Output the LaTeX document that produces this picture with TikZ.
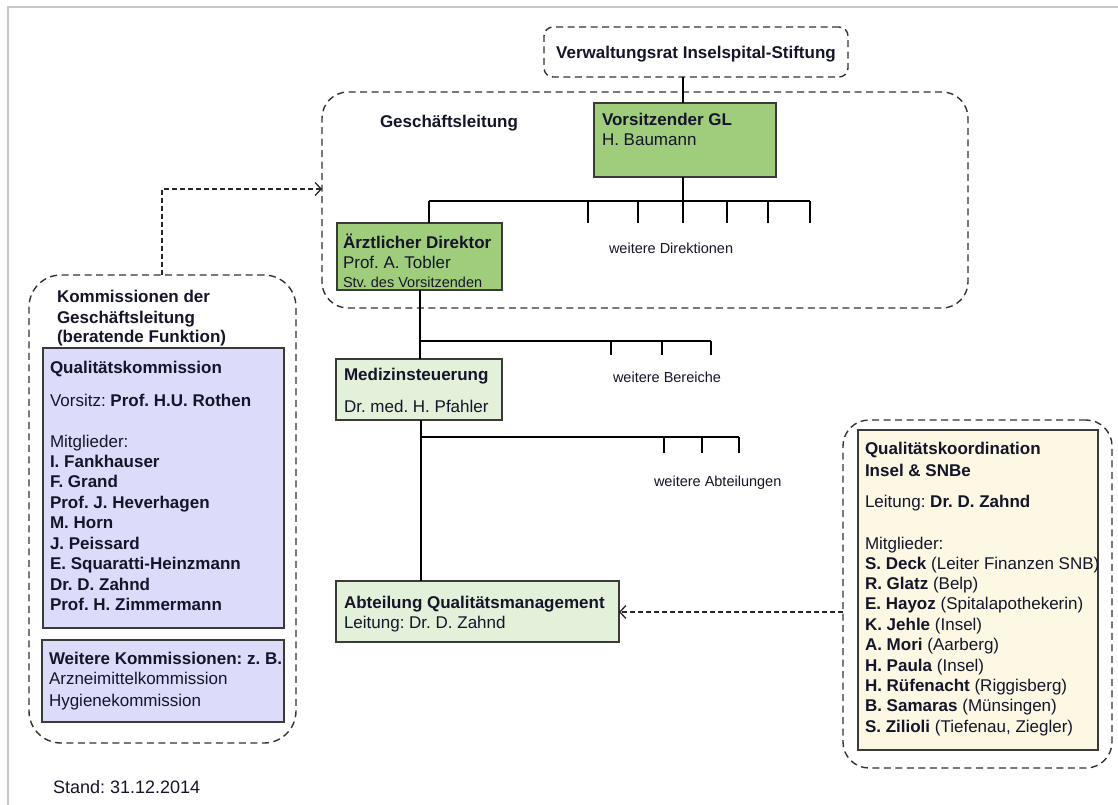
\documentclass[tikz,border=0pt]{standalone}
\usepackage{fontspec}
\setmainfont{Liberation Sans}
\usetikzlibrary{arrows.meta}
\definecolor{tcol}{HTML}{15152A}
\definecolor{gdark}{HTML}{9FCD7C}
\definecolor{glight}{HTML}{E3F0DA}
\definecolor{lav}{HTML}{DCDCFA}
\definecolor{cream}{HTML}{FCF8E4}
\definecolor{bord}{HTML}{3A3A3A}
\definecolor{framecol}{HTML}{C8C8C8}
\newcommand\mytx[4]{\node[txt] (#1) at (#2,#3) {#4};}
\begin{document}
\frenchspacing
\begin{tikzpicture}[x=1pt,y=-1pt,
 box/.style={draw=bord,line width=1.4pt,anchor=north west,inner sep=0pt,outer sep=0pt},
 dbox/.style={draw=black!80,line width=1.4pt,dash pattern=on 7pt off 4.5pt,anchor=north west,inner sep=0pt,outer sep=0pt},
 conn/.style={draw=black,line width=1.2pt},
 darr/.style={draw=black!85,line width=1.3pt,dash pattern=on 5pt off 3pt,-{Straight Barb[length=6pt,width=13pt,line width=1.3pt]}},
 txt/.style={anchor=base west,inner sep=0pt,outer sep=0pt,text=tcol,font=\fontsize{17}{20}\selectfont},
 small/.style={txt,font=\fontsize{14.5}{17}\selectfont},
]
\useasboundingbox (0,0) rectangle (1118,805);
\fill[white] (0,0) rectangle (1118,805);
\draw[framecol,line width=1.5pt] (8,805) -- (8,7) -- (1118,7);

% containers
\node[dbox,rounded corners=9pt,minimum width=304pt,minimum height=50pt] (vr) at (544,27) {};
\node[txt,anchor=base,font=\fontsize{17}{20}\selectfont\bfseries] (vrt) at (696,59) {Verwaltungsrat Inselspital-Stiftung};
\node[dbox,rounded corners=26pt,minimum width=646pt,minimum height=216pt] (gl) at (322,92) {};
\node[dbox,rounded corners=32pt,minimum width=267pt,minimum height=468pt] (kg) at (29,275) {};
\node[dbox,rounded corners=26pt,minimum width=269pt,minimum height=348pt] (qk) at (843,420) {};

% boxes
\node[box,fill=gdark,minimum width=182pt,minimum height=74pt] (vgl) at (594,103) {};
\node[box,fill=gdark,minimum width=165pt,minimum height=67pt] (ad) at (337,223) {};
\node[box,fill=glight,minimum width=166pt,minimum height=61pt] (ms) at (336,359) {};
\node[box,fill=glight,minimum width=283pt,minimum height=61pt] (aq) at (336,581) {};
\node[box,fill=lav,minimum width=241pt,minimum height=280pt] (qkom) at (43,348) {};
\node[box,fill=lav,minimum width=242pt,minimum height=82pt] (wk) at (42,640) {};
\node[box,fill=cream,minimum width=240pt,minimum height=320pt] (qkoord) at (858,430) {};

% top texts
\mytx{glt}{380}{128}{\bfseries Geschäftsleitung}
\mytx{v1}{602}{126}{\bfseries Vorsitzender GL}
\mytx{v2}{602}{146}{H. Baumann}
\mytx{a1}{343}{248}{\bfseries Ärztlicher Direktor}
\mytx{a2}{343}{268}{Prof. A. Tobler}
\node[small] (a3) at (343,287) {Stv. des Vorsitzenden};
\node[small] (wd) at (609,253) {weitere Direktionen};
\node[small] (wb) at (613,382) {weitere Bereiche};
\node[small] (wa) at (654,486) {weitere Abteilungen};

\mytx{m1}{344}{380}{\bfseries Medizinsteuerung}
\mytx{m2}{344}{412}{Dr. med. H. Pfahler}
\mytx{q1}{344}{608}{\bfseries Abteilung Qualitätsmanagement}
\mytx{q2}{344}{628}{Leitung: Dr. D. Zahnd}

% left panel
\mytx{k1}{57}{302}{\bfseries Kommissionen der}
\mytx{k2}{57}{323}{\bfseries Geschäftsleitung}
\mytx{k3}{57}{342}{\bfseries (beratende Funktion)}
\mytx{l1}{50}{373}{\bfseries Qualitätskommission}
\mytx{l2}{50}{406}{Vorsitz: \textbf{Prof. H.U. Rothen}}
\mytx{l3}{50}{447}{Mitglieder:}
\mytx{l4}{50}{467}{\bfseries I. Fankhauser}
\mytx{l5}{50}{487.5}{\bfseries F. Grand}
\mytx{l6}{50}{508}{\bfseries Prof. J. Heverhagen}
\mytx{l7}{50}{528.5}{\bfseries M. Horn}
\mytx{l8}{50}{549}{\bfseries J. Peissard}
\mytx{l9}{50}{569.5}{\bfseries E. Squaratti-Heinzmann}
\mytx{l10}{50}{590}{\bfseries Dr. D. Zahnd}
\mytx{l11}{50}{610.5}{\bfseries Prof. H. Zimmermann}
\mytx{w1}{49}{664}{\bfseries Weitere Kommissionen: z. B.}
\mytx{w2}{49}{684}{Arzneimittelkommission}
\mytx{w3}{49}{706}{Hygienekommission}
\node[txt,font=\fontsize{18}{21}\selectfont] (stand) at (53,793) {Stand: 31.12.2014};

% right panel
\mytx{r1}{865}{454}{\bfseries Qualitätskoordination}
\mytx{r2}{865}{476}{\bfseries Insel \& SNBe}
\mytx{r3}{865}{507}{Leitung: \textbf{Dr. D. Zahnd}}
\mytx{r4}{865}{549}{Mitglieder:}
\mytx{r5}{865}{569}{\textbf{S. Deck} (Leiter Finanzen SNB)}
\mytx{r6}{865}{589.4}{\textbf{R. Glatz} (Belp)}
\mytx{r7}{865}{609.8}{\textbf{E. Hayoz} (Spitalapothekerin)}
\mytx{r8}{865}{630.2}{\textbf{K. Jehle} (Insel)}
\mytx{r9}{865}{650.6}{\textbf{A. Mori} (Aarberg)}
\mytx{r10}{865}{671}{\textbf{H. Paula} (Insel)}
\mytx{r11}{865}{691.4}{\textbf{H. Rüfenacht} (Riggisberg)}
\mytx{r12}{865}{711.8}{\textbf{B. Samaras} (Münsingen)}
\mytx{r13}{865}{732.2}{\textbf{S. Zilioli} (Tiefenau, Ziegler)}

% connectors
\coordinate (b1) at (683,201);
\coordinate (b1L) at (429,201);
\coordinate (b1R) at (810,201);
\draw[conn] (vgl.north -| b1) -- (b1 |- vr.south);
\draw[conn] (vgl.south -| b1) -- (b1) -- (683,223);
\draw[conn] (b1L) -- (b1R);
\draw[conn] (b1L) -- (b1L |- ad.north);
\foreach \x in {588,638,727,768,810} \draw[conn] (\x,201) -- (\x,223);

\coordinate (b2) at (420,341);
\coordinate (b2R) at (711,341);
\draw[conn] (ad.south -| b2) -- (b2) -- (b2 |- ms.north);
\draw[conn] (b2) -- (b2R);
\foreach \x in {611,662,711} \draw[conn] (\x,341) -- (\x,355);

\coordinate (b3) at (421,437);
\coordinate (b3R) at (739,437);
\draw[conn] (ms.south -| b3) -- (b3) -- (b3 |- aq.north);
\draw[conn] (b3) -- (b3R);
\foreach \x in {664,702,739} \draw[conn] (\x,437) -- (\x,453);

\coordinate (ka) at (162,189);
\draw[darr] (kg.north -| ka) -- (ka) -- (ka -| gl.west);
\draw[darr] (qk.west |- 0,612) -- (aq.east |- 0,612);
\end{tikzpicture}
\end{document}
